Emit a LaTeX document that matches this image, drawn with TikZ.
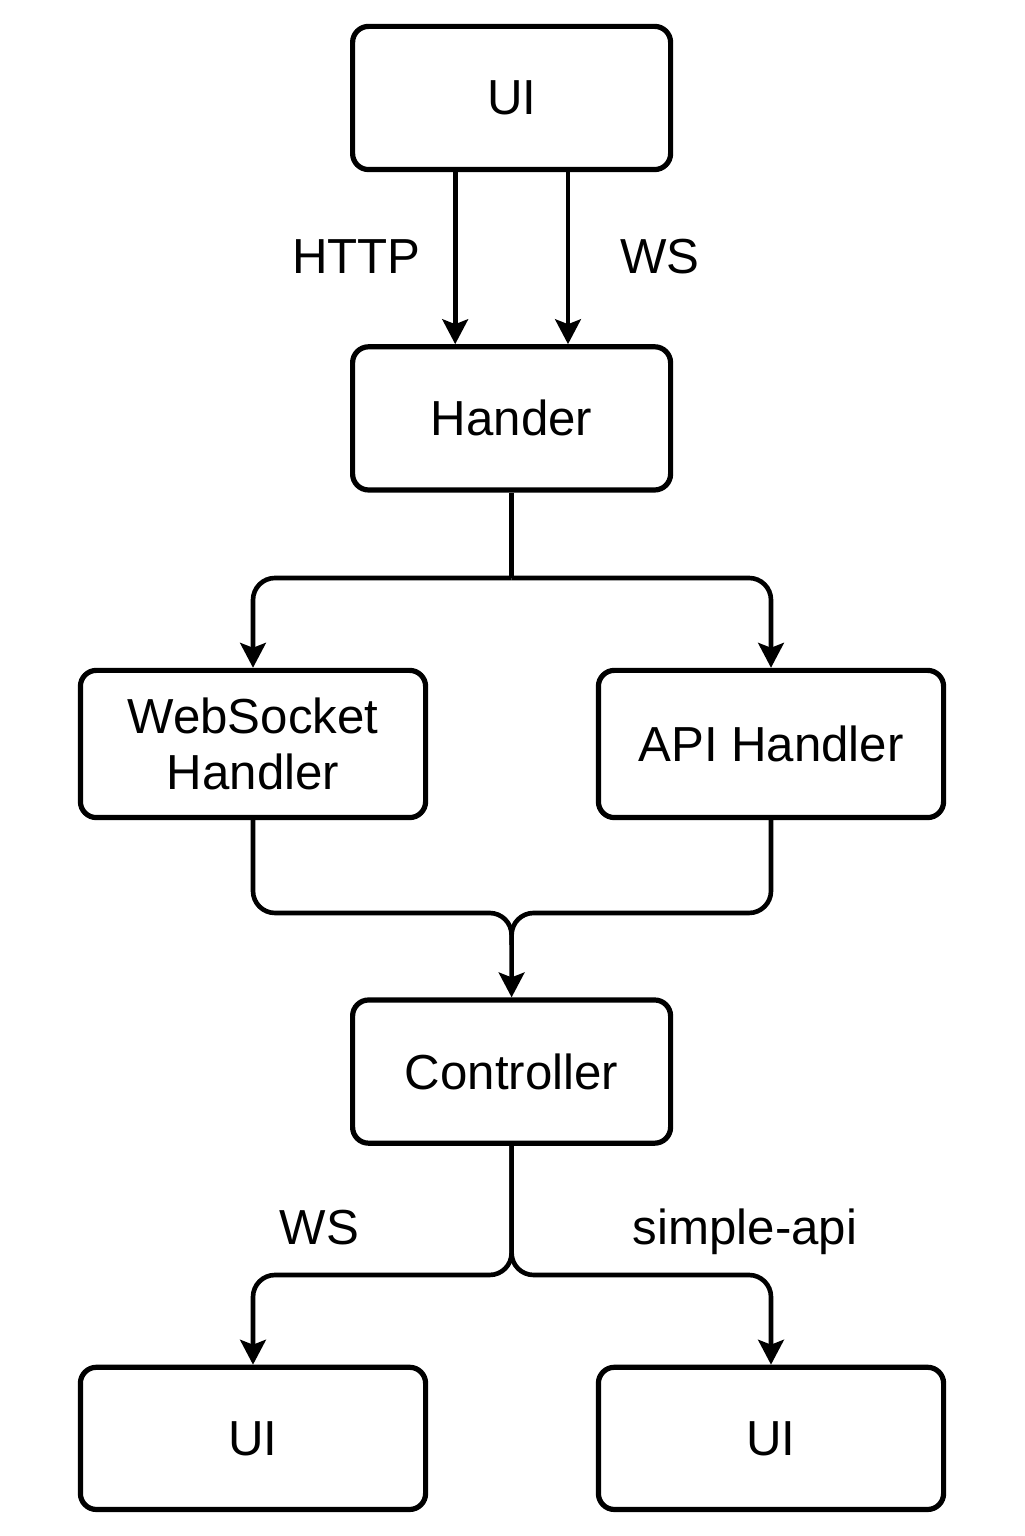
\documentclass[tikz,border=0pt]{standalone}
\usepackage{fontspec}
\setmainfont{Liberation Sans}
\usetikzlibrary{arrows.meta}

\begin{document}
\begin{tikzpicture}[
        box/.style={draw, line width=3.7pt, rounded corners=0.4cm, minimum width=7.95cm, minimum height=3.58cm, align=center, font=\fontsize{35}{40}\selectfont},
        widebox/.style={box, minimum width=8.63cm},
        lbl/.style={anchor=base, font=\fontsize{35}{40}\selectfont},
        wire/.style={line width=3.3pt, rounded corners=0.55cm},
        link/.style={wire, -{Stealth[length=0.62cm, width=0.64cm, inset=0.12cm]}}
    ]
        \useasboundingbox (0,0) rectangle (25.6,38.4);

        % Boxes
        \node[box] (uitop) at (12.79,35.95) {UI};
        \node[box] (hander) at (12.79,27.94) {Hander};
        \node[widebox, minimum height=3.68cm] (wsh) at (6.325,19.8) {WebSocket\\Handler};
        \node[widebox, minimum height=3.68cm] (api) at (19.275,19.8) {API Handler};
        \node[box] (ctrl) at (12.79,11.61) {Controller};
        \node[widebox, minimum height=3.555cm] (uiws) at (6.325,2.44) {UI};
        \node[widebox, minimum height=3.555cm] (uiapi) at (19.275,2.44) {UI};

        % Branch points
        \coordinate (fork) at (12.79,23.95);
        \coordinate (join) at (12.79,15.575);
        \coordinate (split) at (12.79,6.525);

        % UI to Hander
        \draw[link] ([xshift=-1.41cm]uitop.south) -- ([xshift=-1.41cm]hander.north);
        \draw[link] ([xshift=1.41cm]uitop.south) -- ([xshift=1.41cm]hander.north);
        \node[lbl] (http) at (8.91,31.55) {HTTP};
        \node[lbl] (wsin) at (16.5,31.55) {WS};

        % Hander to the two handlers
        \draw[wire] (hander.south) -- (fork);
        \draw[link] (fork) -| (wsh.north);
        \draw[link] (fork) -| (api.north);

        % Handlers to Controller
        \draw[link] (wsh.south) |- (join) -- (ctrl.north);
        \draw[wire] (api.south) |- (join) -- ([yshift=-0.8cm]join);

        % Controller to UI
        \draw[link] (ctrl.south) -- (split) -| (uiws.north);
        \draw[link] (ctrl.south) -- (split) -| (uiapi.north);
        \node[lbl] (wsout) at (7.99,7.28) {WS};
        \node[lbl] (simpleapi) at (18.625,7.28) {simple-api};
\end{tikzpicture}
\end{document}
